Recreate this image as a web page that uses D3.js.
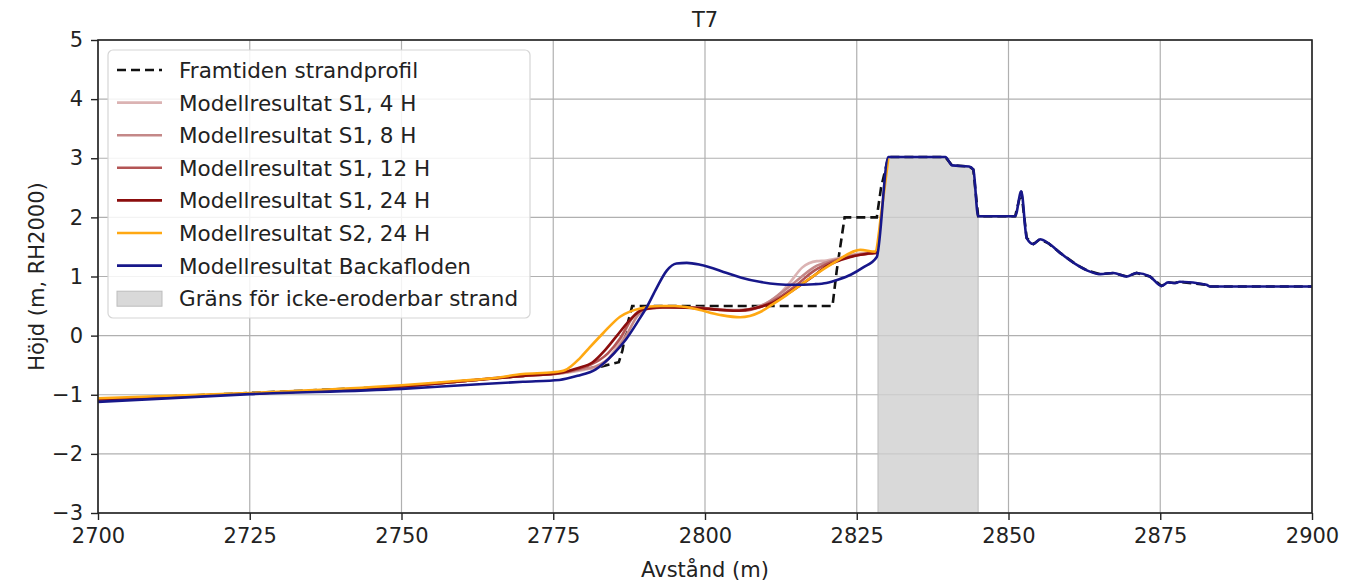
<!DOCTYPE html>
<meta charset="utf-8">
<script src="https://d3js.org/d3.v7.min.js"></script>
<style>
  body { margin: 0; background: #fff; }
  text { font-family: "DejaVu Sans", sans-serif; fill: #222; }
</style>
<svg id="chart" width="1352" height="586"></svg>
<script>
// axis ticks
var xTicks = [2700, 2725, 2750, 2775, 2800, 2825, 2850, 2875, 2900];
var yTicks = [-3, -2, -1, 0, 1, 2, 3, 4, 5];

// Modellresultat Backafloden
var backafloden = [[2700,-1.12],[2725,-0.99],[2750,-0.90],[2760,-0.84],[2770,-0.78],[2776,-0.75],[2779,-0.68],
  [2782,-0.57],[2785,-0.30],[2787,-0.06],[2789,0.25],[2790.5,0.50],[2792,0.80],[2793.7,1.10],[2795.3,1.22],
  [2797,1.23],[2799.2,1.20],[2803.6,1.06],[2806,0.98],[2809,0.91],[2812,0.87],[2814.5,0.86],[2818,0.87],
  [2820,0.89],[2822,0.95],[2824,1.03],[2826,1.15],[2828.3,1.33],[2830.2,3.02],[2839.6,3.02],[2840.7,2.88],
  [2843.5,2.86],[2844.2,2.81],[2845,2.02],[2851.1,2.02],[2852.1,2.44],[2853,1.65],[2854.1,1.55],[2855.2,1.63],
  [2856.6,1.56],[2858.5,1.40],[2861.2,1.20],[2863,1.10],[2865.1,1.04],[2867.3,1.06],[2869.5,1.00],[2871.1,1.06],
  [2873.3,1.00],[2875.2,0.84],[2876.3,0.90],[2877.4,0.89],[2878.2,0.91],[2882.6,0.86],[2883.2,0.83],[2900,0.83]];

// Framtiden strandprofil (after the crest it follows the Backafloden profile)
var framtiden = [[2700,-1.08],[2750,-0.86],[2770,-0.68],[2776,-0.63],[2780,-0.57],[2783,-0.52],[2785.8,-0.45],
  [2786.4,-0.25],[2787,0.10],[2788,0.50],[2821,0.50],[2821.7,1.10],[2823,2.00],[2828.3,2.00],[2829,2.50],[2830.2,3.02]]
  .concat(backafloden.filter(function(d){ return d[0] > 2830.2; }));

var s1_4h = [[2700,-1.08],[2725,-0.98],[2750,-0.86],[2770,-0.68],[2776,-0.64],[2780,-0.58],[2783,-0.50],[2786,-0.10],
  [2788,0.30],[2790,0.45],[2794,0.48],[2799,0.47],[2803,0.44],[2806,0.43],[2809,0.50],[2812,0.68],[2814,0.90],
  [2816,1.15],[2818.4,1.26],[2820,1.27],[2822,1.31],[2825,1.38],[2828.3,1.40]];
var s1_8h = [[2700,-1.08],[2725,-0.98],[2750,-0.86],[2770,-0.68],[2776,-0.64],[2779,-0.58],[2782,-0.52],[2785,-0.30],
  [2787,0.00],[2789,0.35],[2791,0.46],[2795,0.48],[2800,0.46],[2804,0.43],[2807,0.44],[2810,0.54],[2812.5,0.72],
  [2815,0.92],[2818,1.16],[2821,1.27],[2825,1.37],[2828.3,1.40]];
var s1_12h = [[2700,-1.08],[2725,-0.98],[2750,-0.86],[2770,-0.68],[2776,-0.63],[2779,-0.57],[2781,-0.50],[2784,-0.30],
  [2786,-0.05],[2788,0.30],[2790,0.45],[2794,0.48],[2799,0.47],[2803,0.43],[2806,0.42],[2809,0.48],[2812,0.63],
  [2815,0.85],[2818,1.10],[2821,1.25],[2825,1.36],[2828.3,1.40]];
var s1_24h = [[2700,-1.08],[2725,-0.98],[2750,-0.86],[2770,-0.68],[2776,-0.63],[2779,-0.55],[2781.5,-0.45],
  [2783.5,-0.25],[2785.5,0.00],[2787.5,0.25],[2789.8,0.44],[2793,0.48],[2798,0.47],[2802,0.44],[2805,0.42],
  [2808,0.46],[2811,0.55],[2814.5,0.77],[2817.5,0.98],[2820,1.17],[2824,1.33],[2827.7,1.40],[2828.4,1.41]];
var s2_24h = [[2700,-1.06],[2725,-0.97],[2750,-0.84],[2760,-0.76],[2765,-0.72],[2770,-0.65],[2775,-0.62],[2777,-0.58],
  [2779.4,-0.38],[2781,-0.20],[2783.2,0.04],[2786,0.32],[2789.3,0.46],[2792.6,0.50],[2795,0.50],[2798.1,0.46],
  [2802.5,0.35],[2805.8,0.31],[2809.1,0.40],[2811,0.52],[2813.5,0.69],[2817.3,0.97],[2821.2,1.23],[2825.6,1.45],
  [2828,1.42],[2829.2,2.20],[2830.2,3.00]];

// non-erodible zone
var grans = [2828.5, 2845];

var labels = ["Framtiden strandprofil", "Modellresultat S1, 4 H", "Modellresultat S1, 8 H", "Modellresultat S1, 12 H",
  "Modellresultat S1, 24 H", "Modellresultat S2, 24 H", "Modellresultat Backafloden", "Gräns för icke-eroderbar strand"];

var svg = d3.select("#chart");
var pL = 98, pR = 1312, pT = 40, pB = 513;

var x = d3.scaleLinear().domain([2700, 2900]).range([pL, pR]);
var y = d3.scaleLinear().domain([-3, 5]).range([pB, pT]);

// grid
svg.append("g").selectAll("line").data(xTicks).enter().append("line")
  .attr("x1", d => x(d)).attr("x2", d => x(d)).attr("y1", pT).attr("y2", pB)
  .style("stroke", "#b0b0b0").style("stroke-width", 1.2);
svg.append("g").selectAll("line").data(yTicks).enter().append("line")
  .attr("y1", d => y(d)).attr("y2", d => y(d)).attr("x1", pL).attr("x2", pR)
  .style("stroke", "#b0b0b0").style("stroke-width", 1.2);

// grey zone, under the Backafloden profile
var bl = d3.scaleLinear().domain(backafloden.map(d => d[0])).range(backafloden.map(d => d[1]));
var zone = [grans[0]].concat(backafloden.map(d => d[0]).filter(v => v > grans[0] && v < grans[1])).concat([grans[1]]);
svg.append("path")
  .datum(zone)
  .attr("d", d3.area().x(d => x(d)).y0(y(-3)).y1(d => y(bl(d))))
  .style("fill", "#cfcfcf").style("fill-opacity", 0.8)
  .style("stroke", "#bdbdbd").style("stroke-width", 1);

var line = d3.line().x(d => x(d[0])).y(d => y(d[1])).curve(d3.curveMonotoneX);

svg.append("path").datum(framtiden)
  .attr("d", d3.line().x(d => x(d[0])).y(d => y(d[1])))
  .style("fill", "none").style("stroke", "#111").style("stroke-width", 2.6).style("stroke-dasharray", "9,5");

var series = [
  [s1_4h, "#dbb3b3"], [s1_8h, "#c48888"], [s1_12h, "#b35555"], [s1_24h, "#8b0d0d"],
  [s2_24h, "#ffa812"], [backafloden, "#17178a"]
];
series.forEach(function(s){
  svg.append("path").datum(s[0]).attr("d", line)
    .style("fill", "none").style("stroke", s[1]).style("stroke-width", 2.6)
    .style("stroke-linejoin", "round");
});

// frame
svg.append("rect").attr("x", pL).attr("y", pT).attr("width", pR - pL).attr("height", pB - pT)
  .style("fill", "none").style("stroke", "#222").style("stroke-width", 1.6);

// axes
var xAxis = svg.append("g").attr("transform", "translate(0," + pB + ")")
  .call(d3.axisBottom(x).tickValues(xTicks).tickFormat(d3.format("d")).tickSize(7).tickPadding(8));
var yAxis = svg.append("g").attr("transform", "translate(" + pL + ",0)")
  .call(d3.axisLeft(y).tickValues(yTicks).tickFormat(d => d < 0 ? "\u2212" + (-d) : d).tickSize(7).tickPadding(8));
[xAxis, yAxis].forEach(function(a){
  a.select(".domain").remove();
  a.selectAll("line").style("stroke", "#222").style("stroke-width", 1.4);
  a.selectAll("text").style("font-size", "21px").style("font-family", "DejaVu Sans").style("fill", "#222");
});

// titles
svg.append("text").attr("x", (pL + pR) / 2).attr("y", 27).attr("text-anchor", "middle")
  .style("font-size", "21px").text("T7");
svg.append("text").attr("x", (pL + pR) / 2).attr("y", 577).attr("text-anchor", "middle")
  .style("font-size", "21px").text("Avstånd (m)");
svg.append("text").attr("transform", "translate(44," + ((pT + pB) / 2) + ") rotate(-90)")
  .attr("text-anchor", "middle").style("font-size", "21px").text("Höjd (m, RH2000)");

// legend
var lg = svg.append("g");
lg.append("rect").attr("x", 108).attr("y", 50).attr("width", 422).attr("height", 268).attr("rx", 5)
  .style("fill", "#fff").style("fill-opacity", 0.85).style("stroke", "#d6d6d6").style("stroke-width", 1.2);
var legendColors = ["#111", "#dbb3b3", "#c48888", "#b35555", "#8b0d0d", "#ffa812", "#17178a", null];
labels.forEach(function(t, i){
  var cy = 70 + i * 32.6;
  if (i === 7) {
    lg.append("rect").attr("x", 117).attr("y", cy - 7).attr("width", 45).attr("height", 15)
      .style("fill", "#cfcfcf").style("fill-opacity", 0.8).style("stroke", "#bdbdbd");
  } else {
    lg.append("line").attr("x1", 117).attr("x2", 162).attr("y1", cy).attr("y2", cy)
      .style("stroke", legendColors[i]).style("stroke-width", 2.6)
      .style("stroke-dasharray", i === 0 ? "9,5" : null);
  }
  lg.append("text").attr("x", 179).attr("y", cy + 8).style("font-size", "21.5px").text(t);
});
</script>
